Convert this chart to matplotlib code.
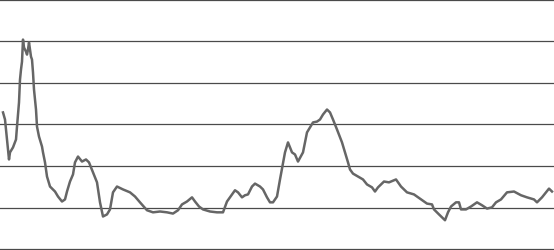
import matplotlib
matplotlib.use('Agg')
import matplotlib.pyplot as plt

# --------------------------------------------------
# Data
# --------------------------------------------------
t = [3, 5, 9, 10, 13, 16, 17, 19, 20, 21, 22, 23, 24, 26, 27, 28, 29, 31, 32, 33,
     34, 36, 37, 39, 42, 43, 45, 47, 50, 55, 58, 62, 65, 67, 70, 73, 75, 78, 82, 86,
     89, 93, 97, 100, 103, 107, 110, 113, 117, 123, 130, 135, 140, 147, 153, 160, 167, 173, 178, 182,
     187, 192, 195, 199, 203, 210, 217, 223, 227, 232, 235, 238, 242, 245, 248, 252, 255, 260, 263, 267,
     270, 273, 277, 280, 285, 288, 292, 295, 298, 303, 307, 310, 313, 317, 320, 323, 327, 330, 333, 337,
     342, 348, 350, 353, 358, 363, 367, 372, 375, 378, 384, 389, 396, 401, 407, 414, 421, 427, 432, 434,
     439, 445, 448, 451, 456, 459, 461, 466, 471, 477, 482, 487, 492, 496, 501, 507, 514, 521, 527, 534,
     537, 542, 549, 552]

values = [32.9, 31.2, 21.6, 23.3, 24.5, 26.4, 29.5, 35.3, 40.8, 43.2, 45.1, 50.4, 48.5, 47.5, 46.8, 48.0, 49.7, 46.3, 45.6, 42.5,
          38.4, 33.6, 29.5, 27.1, 24.7, 23.3, 20.9, 17.5, 15.1, 13.9, 12.7, 11.5, 12.0, 13.9, 16.3, 18.0, 20.9, 22.3, 21.1, 21.6,
          20.9, 18.5, 16.1, 11.3, 7.9, 8.4, 9.6, 13.7, 15.1, 14.4, 13.7, 12.7, 11.3, 9.4, 8.9, 9.1, 8.9, 8.6, 9.4, 10.8,
          11.5, 12.5, 11.5, 10.3, 9.6, 9.1, 8.9, 8.9, 11.5, 13.2, 14.2, 13.7, 12.5, 13.0, 13.2, 15.1, 15.8, 15.1, 14.4, 12.5,
          11.3, 11.3, 12.7, 16.8, 23.3, 25.7, 23.3, 22.8, 21.1, 23.3, 28.1, 29.3, 30.5, 30.7, 31.2, 32.4, 33.6, 32.9, 31.2, 28.8,
          25.7, 20.9, 19.2, 18.2, 17.5, 16.8, 15.6, 14.9, 13.9, 14.9, 16.3, 16.1, 16.8, 15.1, 13.7, 13.2, 12.0, 11.0, 10.8, 9.6,
          8.4, 7.0, 8.9, 10.3, 11.3, 11.3, 9.6, 9.6, 10.3, 11.3, 10.6, 9.8, 10.1, 11.3, 12.0, 13.7, 13.9, 13.0, 12.5, 12.0,
          11.3, 12.5, 14.6, 13.9]

grid_levels = [0, 10, 20, 30, 40, 50, 60]

# --------------------------------------------------
# Plot
# --------------------------------------------------
fig = plt.figure(figsize=(5.54, 2.51), dpi=100)
ax = fig.add_axes([0, 0, 1, 1])

for g in grid_levels:
    ax.axhline(g, color='#4a4a4a', linewidth=0.9, zorder=1)

ax.plot(t, values, color='#666666', linewidth=1.8, zorder=2)

ax.set_xlim(0, 554)
ax.set_ylim(-0.15, 60.15)
ax.axis('off')

fig.savefig('out.png', dpi=100)
